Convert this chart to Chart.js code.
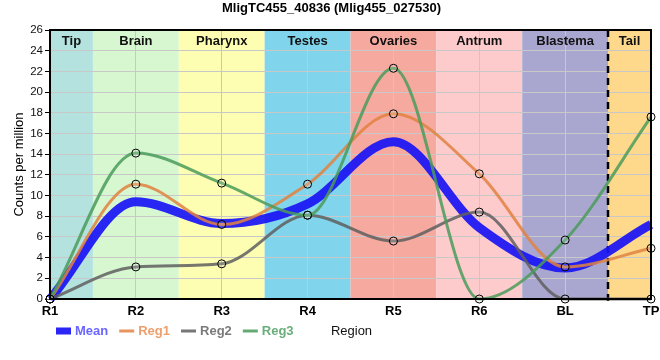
<!DOCTYPE html>
<html>
<head>
<meta charset="utf-8">
<script src="https://cdn.jsdelivr.net/npm/chart.js@4.4.0/dist/chart.umd.min.js"></script>
<style>
html,body{margin:0;padding:0;background:#fff;}
#wrap{width:660px;height:360px;}
</style>
</head>
<body>
<div id="wrap"><canvas id="c" width="660" height="360"></canvas></div>
<script>
const categories = ['R1','R2','R3','R4','R5','R6','BL','TP'];
const regionNames = ['Tip','Brain','Pharynx','Testes','Ovaries','Antrum','Blastema','Tail'];
const regionColors = ['#b4e3df','#d7f7d0','#fefeb3','#80d5ec','#f6a99f','#fecbcd','#a9a7cf','#fed98b'];
const meanValues = [0, 9.4, 7.3, 9.2, 15.2, 6.9, 3.0, 7.2];
const reg1Values = [0, 11.1, 7.2, 11.1, 17.9, 12.1, 3.1, 4.9];
const reg2Values = [0, 3.1, 3.4, 8.1, 5.6, 8.4, 0, 0];
const reg3Values = [0, 14.1, 11.2, 8.1, 22.3, 0, 5.7, 17.6];
const yTicks = [0,2,4,6,8,10,12,14,16,18,20,22,24,26];

const FONT = "'Liberation Sans', Arial, sans-serif";

const seriesStyle = [
  {label:'Mean', data: meanValues, color:'rgba(25,20,245,0.92)', text:'#6a66ff', width:9, box:7, points:false, order:4},
  {label:'Reg1', data: reg1Values, color:'rgba(225,130,65,0.85)', text:'#ee9f6c', width:3, box:3, points:true, order:3},
  {label:'Reg2', data: reg2Values, color:'rgba(95,95,95,0.85)', text:'#7a7a7a', width:3, box:3, points:true, order:2},
  {label:'Reg3', data: reg3Values, color:'rgba(75,155,90,0.85)', text:'#6aae7b', width:3, box:3, points:true, order:1},
];

const bandsPlugin = {
  id:'bands',
  beforeDraw(chart){
    const {ctx, chartArea:a, scales:{x}} = chart;
    ctx.save();
    for(let i=0;i<regionNames.length;i++){
      const l = Math.max(a.left, x.getPixelForValue(i-0.5));
      const r = Math.min(a.right, x.getPixelForValue(i+0.5));
      ctx.fillStyle = regionColors[i];
      ctx.fillRect(l, a.top, r-l, a.bottom-a.top);
    }
    ctx.restore();
  },
  beforeDatasetsDraw(chart){
    const {ctx, chartArea:a, scales:{x}} = chart;
    ctx.save();
    ctx.font = "bold 13px " + FONT;
    ctx.fillStyle = '#111';
    ctx.textAlign = 'center';
    ctx.textBaseline = 'middle';
    for(let i=0;i<regionNames.length;i++){
      const l = Math.max(a.left, x.getPixelForValue(i-0.5));
      const r = Math.min(a.right, x.getPixelForValue(i+0.5));
      ctx.fillText(regionNames[i], (l+r)/2, a.top+11);
    }
    const dx = Math.round(x.getPixelForValue(categories.length-1.5));
    ctx.strokeStyle = '#000';
    ctx.lineWidth = 2.5;
    ctx.setLineDash([7,5]);
    ctx.beginPath();
    ctx.moveTo(dx, a.top);
    ctx.lineTo(dx, a.bottom+6);
    ctx.stroke();
    ctx.restore();
  },
  afterDraw(chart){
    const {ctx, chartArea:a} = chart;
    ctx.save();
    ctx.strokeStyle = '#000';
    ctx.lineWidth = 2;
    ctx.strokeRect(a.left, a.top, a.right-a.left, a.bottom-a.top);
    const ly = 331;
    let lx = 56;
    ctx.font = "bold 13px " + FONT;
    ctx.textBaseline = 'middle';
    ctx.textAlign = 'left';
    seriesStyle.forEach(s=>{
      ctx.fillStyle = s.color;
      ctx.fillRect(lx, ly - s.box/2, 15, s.box);
      ctx.fillStyle = s.text;
      ctx.fillText(s.label, lx+19, ly);
      lx += 19 + ctx.measureText(s.label).width + 11;
    });
    ctx.font = "13px " + FONT;
    ctx.fillStyle = '#111';
    ctx.textAlign = 'center';
    ctx.fillText('Region', (a.left+a.right)/2 + 1, ly);
    ctx.restore();
  }
};

new Chart(document.getElementById('c'), {
  type:'line',
  data:{
    labels: categories,
    datasets: seriesStyle.map(s=>({
      label: s.label,
      data: s.data,
      borderColor: s.color,
      backgroundColor: s.color,
      borderWidth: s.width,
      cubicInterpolationMode: 'monotone',
      pointRadius: s.points ? 4 : 0,
      pointHoverRadius: s.points ? 4 : 0,
      pointBackgroundColor: 'rgba(255,255,255,0.15)',
      pointBorderColor: '#000',
      pointBorderWidth: 1,
      fill: false,
      order: s.order,
      clip: 6
    }))
  },
  options:{
    responsive:false,
    animation:false,
    layout:{padding:{left:12, right:9, top:0, bottom:0}},
    plugins:{
      legend:{display:false},
      tooltip:{enabled:false},
      title:{
        display:true,
        text:'MligTC455_40836 (Mlig455_027530)',
        color:'#000',
        font:{family:FONT, size:13, weight:'bold'},
        padding:{top:1, bottom:13.4}
      }
    },
    scales:{
      x:{
        offset:false,
        grid:{color:'#c8c8c8', lineWidth:1, drawTicks:false},
        border:{display:false},
        ticks:{color:'#000', font:{family:FONT, size:13, weight:'bold'}, padding:5, maxRotation:0, autoSkip:false},
        afterFit(s){ s.height = 61; s.paddingLeft = 0; s.paddingRight = 0; }
      },
      y:{
        min:0, max:26,
        afterBuildTicks(s){ s.ticks = yTicks.map(v=>({value:v})); },
        grid:{color:'#c8c8c8', lineWidth:1, tickLength:5, tickColor:'#000'},
        border:{display:false},
        ticks:{color:'#111', font:{family:FONT, size:11.5}, padding:2},
        title:{display:true, text:'Counts per million', color:'#000', font:{family:FONT, size:13}, padding:{top:0,bottom:2}},
        afterFit(s){ s.width = 38; }
      }
    }
  },
  plugins:[bandsPlugin]
});
</script>
</body>
</html>
